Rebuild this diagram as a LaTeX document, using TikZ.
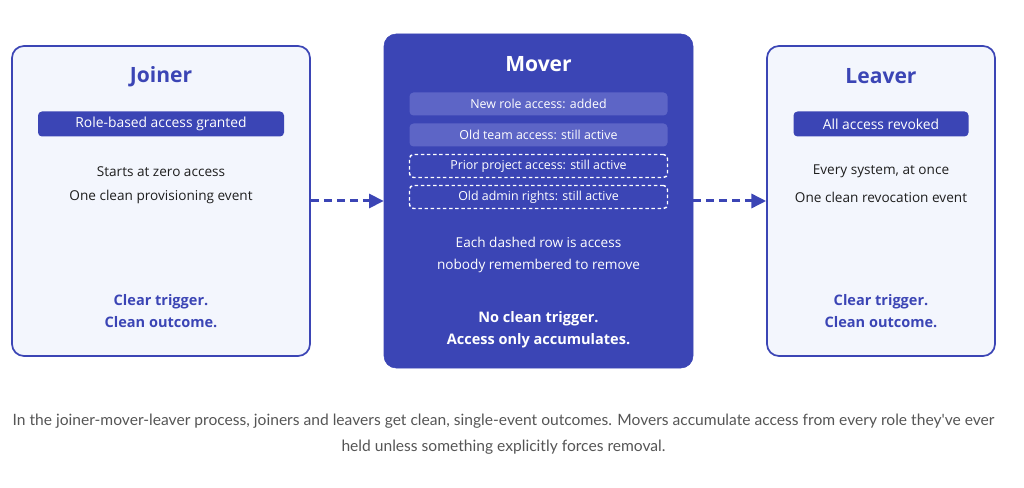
\documentclass[tikz,border=0pt]{standalone}
\usepackage{fontspec}
\setmainfont{Open Sans}
\newfontfamily\capfont{Lato}
\usepackage{tikz}
\usetikzlibrary{arrows.meta,positioning}
\definecolor{jmlblue}{HTML}{3B45B5}
\definecolor{jmlrow}{HTML}{5D65C6}
\definecolor{jmlpale}{HTML}{F3F6FD}
\definecolor{jmlink}{HTML}{1E1E1E}
\definecolor{jmlgrey}{HTML}{555555}

\begin{document}
\begin{tikzpicture}[x=0.75pt,y=-0.75pt,font=\fontsize{10.2}{12}\selectfont,
  stage/.style={draw=jmlblue,line width=1.3pt,rounded corners=9pt,fill=jmlpale,inner sep=0pt},
  hot/.style={draw=jmlblue,fill=jmlblue,rounded corners=9pt,inner sep=0pt},
  pill/.style={fill=jmlblue,text=white,rounded corners=3pt,minimum height=18.75pt,inner sep=0pt,font=\fontsize{10.4}{12}\selectfont},
  row/.style={rounded corners=3pt,minimum width=193.5pt,minimum height=17.25pt,inner sep=0pt,text=white,font=\fontsize{9.3}{11}\selectfont},
  kept/.style={fill=jmlrow},
  stale/.style={draw=white,line width=1.1pt,dash pattern=on 2.6pt off 2pt},
  ttl/.style={font=\fontsize{15.8}{18}\selectfont\bfseries},
  note/.style={text=jmlink},
  foot/.style={font=\fontsize{10.9}{12}\selectfont\bfseries,align=center},
  flow/.style={draw=jmlblue,line width=2.25pt,dash pattern=on 6pt off 3.75pt,-{Triangle[length=11pt,width=10.5pt]}}]
  \useasboundingbox (0,0) rectangle (1024,488);
  % stages
  \node[stage,minimum width=223.5pt,minimum height=232.5pt] (joiner) at (161,201) {};
  \node[hot,minimum width=231.75pt,minimum height=250.5pt] (mover) at (538.5,201) {};
  \node[stage,minimum width=171pt,minimum height=232.5pt] (leaver) at (881,201) {};
  \draw[flow] (joiner) -- (mover);
  \draw[flow] (mover) -- (leaver);
  % joiner
  \node[ttl,text=jmlblue] (jtitle) at (161,76.5) {Joiner};
  \node[pill,minimum width=184.5pt] (jpill) at (161,124) {Role-based access granted};
  \node[note] (jline1) at (161,171.5) {Starts at zero access};
  \node[note] (jline2) at (161,197) {One clean provisioning event};
  \node[foot,text=jmlblue] (jfoot) at (161,311.5) {Clear trigger.\\[4.5pt]Clean outcome.};
  % mover
  \node[ttl,text=white] (mtitle) at (538.5,64.5) {Mover};
  \foreach \y/\n/\t/\s in {104/m1/New role access: added/kept,
                           135/m2/Old team access: still active/kept,
                           166/m3/Prior project access: still active/stale,
                           197/m4/Old admin rights: still active/stale} {
    \node[row,\s] (\n) at (538.5,\y) {\t};
  }
  \node[text=white,align=center] (mnote) at (538.5,254.5) {Each dashed row is access\\[4.5pt]nobody remembered to remove};
  \node[foot,text=white] (mfoot) at (538.5,330) {No clean trigger.\\[4.5pt]Access only accumulates.};
  % leaver
  \node[ttl,text=jmlblue] (ltitle) at (881,76.5) {Leaver};
  \node[pill,minimum width=131.25pt] (lpill) at (881,124) {All access revoked};
  \node[note] (lline1) at (881,171.5) {Every system, at once};
  \node[note] (lline2) at (881,197) {One clean revocation event};
  \node[foot,text=jmlblue] (lfoot) at (881,311.5) {Clear trigger.\\[4.5pt]Clean outcome.};
  % caption
  \node[text=jmlgrey,align=center,font=\capfont\fontsize{11.7}{13}\selectfont] (caption) at (503.5,434.5) {In the joiner-mover-leaver process, joiners and leavers get clean, single-event outcomes. Movers accumulate access from every role they've ever\\[6.5pt]held unless something explicitly forces removal.};
\end{tikzpicture}
\end{document}
